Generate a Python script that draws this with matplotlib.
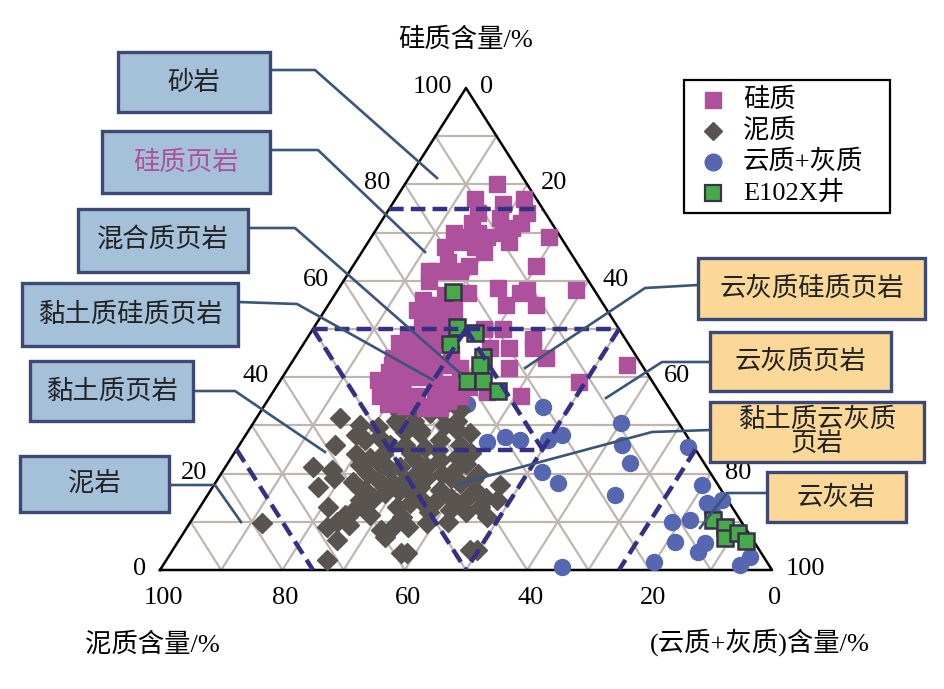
import matplotlib.pyplot as plt
from matplotlib.patches import Rectangle

plt.rcParams['font.family'] = ['Liberation Serif', 'Noto Sans CJK SC']

# ternary data: (silica %, carbonate %) ; clay = 100 - silica - carbonate
siliceous = [(80, 15), (77, 13), (76, 18), (77, 21), (74, 23), (74, 15), (73, 19), (72, 23), (71, 22),
             (72, 15), (70, 17), (69, 19), (70, 21), (68, 23), (70, 13), (69, 16), (68, 15), (67, 18),
             (66, 20), (69, 29), (67, 13), (64, 15), (63, 30), (63, 19), (62, 13), (62, 14), (62, 16),
             (62, 18), (60, 14), (58.5, 26), (58, 31), (58, 39), (57.5, 21.5), (55, 29), (55, 34),
             (57.5, 30), (55, 16), (50, 31), (50, 28), (46, 34), (46, 31), (48, 37), (44, 41), (42, 36),
             (36, 41), (37, 35), (42.5, 55), (39, 49), (46, 38),
             (56, 15), (55, 18), (54, 15), (53, 18), (52, 21), (51.5, 17), (50, 20), (50, 23), (49, 16),
             (48.6, 19), (48, 22), (47, 15.5), (46.5, 18.5), (45.6, 21.6), (45, 25), (44, 16), (43.6, 19),
             (43, 22), (42.5, 25), (42, 28), (41, 17), (40.5, 19), (40, 22), (39.4, 25), (38.6, 28),
             (37.8, 18), (37, 21), (36, 24), (36, 27), (35, 29.5), (34.5, 20), (34, 23), (33.6, 26.5),
             (33.6, 29), (36, 31), (38, 31.5), (36, 18), (57, 18), (54, 21), (39.4, 16), (42.5, 16.6)]

argillaceous = [(31.5, 13.6), (30, 17.7), (26, 15.6), (21.4, 14.3), (20.8, 17.7), (19, 19), (17.2, 17.2),
                (18.3, 22.4), (13, 21), (9.8, 11.8), (8.9, 22.8), (6.2, 25.8), (2, 26.3), (3.5, 37.7),
                (27, 20), (21.8, 21.8), (23.2, 22.7), (24, 24.5), (27.6, 22), (31, 23), (29.7, 20.7),
                (11.4, 24.5), (12.9, 25.5), (13.9, 26.5), (15, 27.5), (16, 28.7), (17, 30), (18.7, 30.7),
                (8.3, 32), (6.8, 33.4), (11, 25), (10, 24), (20.8, 27.2), (18, 29), (18.7, 26.3),
                (32.6, 22.9), (32.6, 27.8), (31, 33), (28.4, 36.5), (28.4, 28.3), (27, 32.3), (24.3, 28.8),
                (23.4, 36.8), (24.3, 38.6), (21.4, 28.5), (21.4, 32.9), (20, 36), (16.6, 30.9), (17.2, 33.9),
                (16.6, 37.5), (18, 40), (18.7, 41.8), (17.6, 46.8), (15, 45.8), (14.5, 47.8), (13, 45.8),
                (13.9, 41.5), (14.5, 38), (13.9, 33.9), (13, 32.2), (9.8, 38.7), (11, 47.9), (8.9, 33.6),
                (3.5, 38.6), (4.2, 49.7), (4.2, 48.6), (31, 26), (30, 31.6), (28.6, 25.7), (26, 24.6),
                (25.3, 30.6), (22.8, 34.4), (21.8, 25.9), (19.7, 31.8), (20.8, 37.8), (16.6, 25.2),
                (13.5, 36.6), (15.6, 42.9), (12.5, 41.2), (33.2, 29.2), (33.2, 32.4), (14.5, 25.4),
                (9.3, 26.3), (11.4, 28.6),
                (30, 24), (29, 28), (26, 27), (25, 33), (23, 30), (22, 39), (19, 34), (19, 38), (16, 33),
                (15, 35), (15, 40), (12, 38), (12, 44), (10, 42), (22, 25), (24, 20), (28, 18), (33, 25),
                (34, 27), (20, 24), (17, 24), (11, 34), (9, 36), (26, 36), (29, 34), (16, 44), (20, 42)]

carbonate = [(34.4, 33), (33.8, 45.7), (27.6, 42.6), (26.6, 40.1), (27, 45.3), (28, 51.7), (27, 49.9),
             (20.3, 52.2), (18, 56), (30.5, 60), (26, 62.5), (22.2, 65.7), (15.6, 66.5), (25.5, 73.5),
             (17.6, 79.8), (13.9, 82.4), (14.5, 84.5), (10, 78.7), (10.4, 81.4), (5.8, 81.3), (5.6, 86.3),
             (3.7, 86), (1.7, 79.8), (0.6, 65.4), (1, 94.3), (2.7, 95), (12, 84.2)]

well_e102x = [(57.7, 19.1), (50.4, 23.3), (49.2, 26.9), (46.9, 24), (44.2, 30.7), (42.5, 31),
              (39.2, 30.6), (39.2, 33.2), (37.1, 36.6),
              (10.4, 85.2), (8.9, 87.8), (6.6, 89), (7.7, 90.6), (6, 92.8)]

tick_vals = [0, 20, 40, 60, 80, 100]
left_boxes = ['砂岩', '硅质页岩', '混合质页岩', '黏土质硅质页岩', '黏土质页岩', '泥岩']
right_boxes = ['云灰质硅质页岩', '云灰质页岩', '黏土质云灰质\n页岩', '云灰岩']
legend_labels = ['硅质', '泥质', '云质+灰质', 'E102X井']

C_SIL = '#ad519d'
C_ARG = '#5a5450'
C_CARB = '#5467b0'
C_WELL = '#46a94a'
C_DASH = '#343085'
C_LEAD = '#3a5578'


def tern(s, c):
    # silica on top, clay at left, carbonate at right
    return c + s / 2.0, s


def xy(pts):
    xs = [tern(s, c)[0] for s, c in pts]
    ys = [tern(s, c)[1] for s, c in pts]
    return xs, ys


W, H = 945, 689
fig = plt.figure(figsize=(W / 100, H / 100), dpi=100)
ax = fig.add_axes([160 / W, (H - 570) / H, 612 / W, 482 / H])
ax.set_xlim(0, 100)
ax.set_ylim(0, 100)
ax.axis('off')

# grid
gc = '#bfb7af'
for k in range(10, 100, 10):
    ax.plot(*zip(tern(k, 0), tern(k, 100 - k)), color=gc, lw=1.6, zorder=1)
    ax.plot(*zip(tern(0, k), tern(100 - k, k)), color=gc, lw=1.6, zorder=1)
    ax.plot(*zip(tern(0, 100 - k), tern(100 - k, 0)), color=gc, lw=1.6, zorder=1)

# triangle
ax.plot([0, 100, 50, 0], [0, 0, 100, 0], color='black', lw=1.8, zorder=2, clip_on=False)

# data
x, y = xy(carbonate)
ax.plot(x, y, 'o', ms=11.5, color=C_CARB, mec=C_CARB, zorder=3, clip_on=False)
x, y = xy(argillaceous)
ax.plot(x, y, 'D', ms=10.5, color=C_ARG, mec=C_ARG, zorder=4, clip_on=False)
x, y = xy(siliceous)
ax.plot(x, y, 's', ms=12, color=C_SIL, mec=C_SIL, zorder=5, clip_on=False)
x, y = xy(well_e102x)
ax.plot(x, y, 's', ms=12, color=C_WELL, mec='#3b2f4a', mew=1.8, zorder=6, clip_on=False)

# classification boundaries
dash_lines = [
    [(75, 0), (75, 25)], [(50, 0), (50, 50)],
    [(50, 0), (0, 50)], [(50, 50), (0, 50)],
    [(25, 0), (0, 25)], [(25, 75), (0, 75)],
    [(50, 25), (25, 25)], [(50, 25), (25, 50)], [(25, 25), (25, 50)],
]
for a, b in dash_lines:
    p, q = tern(*a), tern(*b)
    ax.plot([p[0], q[0]], [p[1], q[1]], color=C_DASH, lw=3.2, dashes=(3.3, 1.6), zorder=7)

# tick labels
for v in tick_vals:
    px, py = tern(v, 0)
    ax.text(px - 2.3, py + 0.2, str(v), ha='right', va='center', fontsize=19, clip_on=False)
    px, py = tern(100 - v, v)
    ax.text(px + 2.3, py + 0.2, str(v), ha='left', va='center', fontsize=19, clip_on=False)
    ax.text(100 - v + 0.5, -5.9, str(v), ha='center', va='center', fontsize=19, clip_on=False)

# overlay in pixel coordinates for labels and callouts
ov = fig.add_axes([0, 0, 1, 1])
ov.set_xlim(0, W)
ov.set_ylim(H, 0)
ov.axis('off')

ov.text(466, 40, '硅质含量/%', ha='center', va='center', fontsize=19)
ov.text(152, 645, '泥质含量/%', ha='center', va='center', fontsize=19)
ov.text(760, 642, '(云质+灰质)含量/%', ha='center', va='center', fontsize=19)

left_rects = [(118, 52, 270, 112), (102, 131, 270, 193), (78, 209, 248, 272),
              (22, 283, 238, 346), (30, 361, 193, 421), (20, 456, 169, 512)]
left_leads = [[(270, 70), (315, 70), (437, 178)],
              [(270, 150), (318, 150), (425, 252)],
              [(248, 228), (295, 228), (460, 373)],
              [(238, 302), (297, 304), (433, 380)],
              [(193, 391), (235, 391), (325, 452)],
              [(169, 485), (215, 485), (241, 522)]]
right_rects = [(698, 258, 925, 319), (710, 332, 891, 391), (710, 402, 924, 462), (767, 472, 906, 522)]
right_leads = [[(698, 285), (645, 288), (525, 368)],
               [(710, 362), (662, 362), (606, 398)],
               [(710, 430), (652, 432), (458, 484)],
               [(767, 493), (727, 493), (700, 528)]]

for lab, r, ld in zip(left_boxes, left_rects, left_leads):
    ov.add_patch(Rectangle((r[0], r[1]), r[2] - r[0], r[3] - r[1], fc='#a5c1da', ec='#3d4874', lw=2.4, zorder=3))
    ov.plot(*zip(*ld), color=C_LEAD, lw=1.9, zorder=2)
    col = C_SIL if lab == '硅质页岩' else '#222222'
    ov.text((r[0] + r[2]) / 2, (r[1] + r[3]) / 2, lab, ha='center', va='center', fontsize=19, color=col,
            family=['Noto Sans CJK SC'], zorder=4)

for lab, r, ld in zip(right_boxes, right_rects, right_leads):
    ov.add_patch(Rectangle((r[0], r[1]), r[2] - r[0], r[3] - r[1], fc='#fbd898', ec='#3d4874', lw=2.4, zorder=3))
    ov.plot(*zip(*ld), color=C_LEAD, lw=1.9, zorder=2)
    ov.text((r[0] + r[2]) / 2, (r[1] + r[3]) / 2, lab, ha='center', va='center', fontsize=19, color='#222222',
            family=['Noto Sans CJK SC'], linespacing=0.9, zorder=4)

# legend
ov.add_patch(Rectangle((684, 80), 206, 133, fc='white', ec='black', lw=1.6, zorder=3))
leg_style = [dict(marker='s', ms=11, color=C_SIL, mec=C_SIL),
             dict(marker='D', ms=9, color=C_ARG, mec=C_ARG),
             dict(marker='o', ms=12, color=C_CARB, mec=C_CARB),
             dict(marker='s', ms=12, color=C_WELL, mec='#3b2f4a', mew=1.6)]
for i, (lab, st) in enumerate(zip(legend_labels, leg_style)):
    yy = 100 + i * 31
    ov.plot([713], [yy], ls='none', zorder=4, **st)
    ov.text(743, yy, lab, ha='left', va='center', fontsize=19, zorder=4)

fig.savefig('out.png', dpi=100)
